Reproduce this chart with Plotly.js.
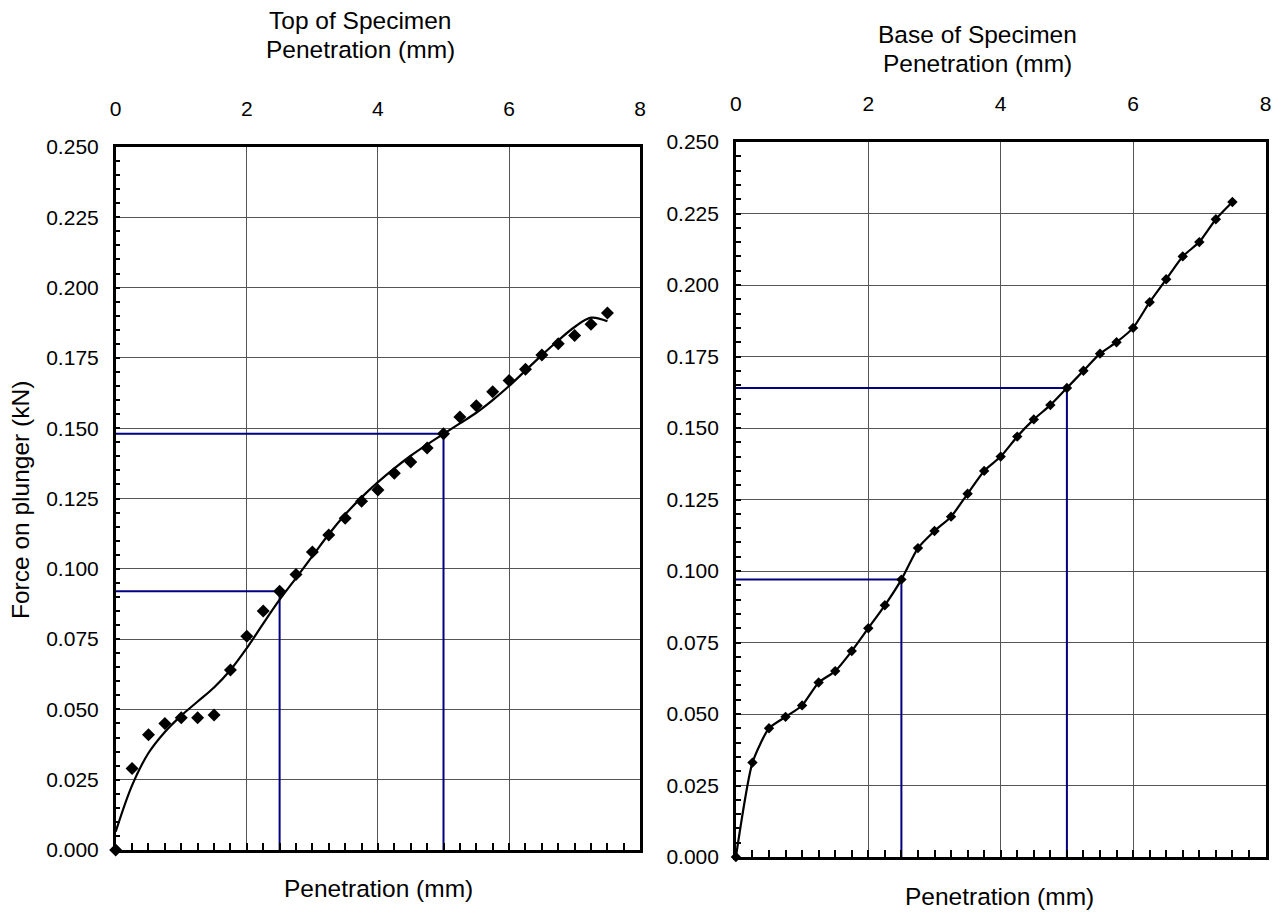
<!DOCTYPE html>
<html>
<head>
<meta charset="utf-8">
<script src="https://cdn.plot.ly/plotly-3.0.1.min.js"></script>
<style>html,body{margin:0;padding:0;background:#fff;}#chart{width:1285px;height:921px;}</style>
</head>
<body>
<div id="chart"></div>
<script>
// ---- data ----
const penetration = [0, 0.25, 0.5, 0.75, 1, 1.25, 1.5, 1.75, 2, 2.25, 2.5, 2.75, 3, 3.25, 3.5, 3.75,
  4, 4.25, 4.5, 4.75, 5, 5.25, 5.5, 5.75, 6, 6.25, 6.5, 6.75, 7, 7.25, 7.5];
const topForce = [0, 0.029, 0.041, 0.045, 0.047, 0.047, 0.048, 0.064, 0.076, 0.085, 0.092, 0.098,
  0.106, 0.112, 0.118, 0.124, 0.128, 0.134, 0.138, 0.143, 0.148, 0.154, 0.158, 0.163, 0.167,
  0.171, 0.176, 0.180, 0.183, 0.187, 0.191];
const topTrend = [0.0065, 0.023, 0.0345, 0.042, 0.0478, 0.0528, 0.0578, 0.064, 0.0718, 0.0805, 0.089,
  0.0967, 0.1045, 0.1123, 0.1193, 0.1254, 0.1308, 0.1357, 0.1402, 0.1442, 0.148, 0.1517, 0.1555,
  0.1600, 0.1650, 0.1705, 0.1760, 0.1812, 0.1860, 0.1893, 0.1880];
const baseForce = [0, 0.033, 0.045, 0.049, 0.053, 0.061, 0.065, 0.072, 0.080, 0.088, 0.097, 0.108,
  0.114, 0.119, 0.127, 0.135, 0.140, 0.147, 0.153, 0.158, 0.164, 0.170, 0.176, 0.180, 0.185,
  0.194, 0.202, 0.210, 0.215, 0.223, 0.229];
const refPenetration = [2.5, 5];
const topRefForce = [0.092, 0.148];
const baseRefForce = [0.097, 0.164];
const xTickLabels = ['0', '2', '4', '6', '8'];

// ---- helpers ----
const W = 1285, H = 921;
const px = v => v / W;
const py = v => 1 - v / H;
const FONT = 'Liberation Sans, Arial, sans-serif';
const NAVY = '#000080';

function refLines(xs, ys) {
  const x = [], y = [];
  xs.forEach((xv, i) => { x.push(0, xv, xv, null); y.push(ys[i], ys[i], 0, null); });
  return {x, y};
}
const topRef = refLines(refPenetration, topRefForce);
const baseRef = refLines(refPenetration, baseRefForce);

const traces = [
  {x: topRef.x, y: topRef.y, xaxis: 'x', yaxis: 'y', mode: 'lines', line: {color: NAVY, width: 2}, showlegend: false, hoverinfo: 'skip'},
  {x: penetration, y: topTrend, xaxis: 'x', yaxis: 'y', mode: 'lines', line: {color: '#000', width: 2.2, shape: 'spline', smoothing: 1}, showlegend: false},
  {x: penetration, y: topForce, xaxis: 'x', yaxis: 'y', mode: 'markers', marker: {symbol: 'diamond', size: 10, color: '#000'}, cliponaxis: false, showlegend: false},
  {x: [0], y: [0], xaxis: 'x3', yaxis: 'y', mode: 'markers', marker: {opacity: 0}, showlegend: false, hoverinfo: 'skip'},
  {x: baseRef.x, y: baseRef.y, xaxis: 'x2', yaxis: 'y2', mode: 'lines', line: {color: NAVY, width: 2}, showlegend: false, hoverinfo: 'skip'},
  {x: penetration, y: baseForce, xaxis: 'x2', yaxis: 'y2', mode: 'lines+markers', line: {color: '#000', width: 2.2, shape: 'spline', smoothing: 0.6},
   marker: {symbol: 'diamond', size: 8, color: '#000'}, cliponaxis: false, showlegend: false},
  {x: [0], y: [0], xaxis: 'x4', yaxis: 'y2', mode: 'markers', marker: {opacity: 0}, showlegend: false, hoverinfo: 'skip'}
];

// main x axis: top side, labels + grid, frame
function mainX(domain, anchor) {
  return {
    domain, anchor, side: 'top', range: [0, 8],
    tickmode: 'array', tickvals: xTickLabels.map(Number), ticktext: xTickLabels,
    showgrid: true, gridcolor: '#555', gridwidth: 1, zeroline: false, ticks: '',
    tickfont: {family: FONT, size: 21, color: '#000'}, ticklabelstandoff: 20,
    showline: true, linecolor: '#000', linewidth: 2.5, mirror: true
  };
}
// overlay x axis: bottom side, inside ruler ticks every 0.25 mm
function tickX(overlay, anchor) {
  return {
    overlaying: overlay, anchor, side: 'bottom', range: [0, 8], tickmode: 'linear', tick0: 0, dtick: 0.25,
    showgrid: false, zeroline: false, showline: false,
    ticks: 'inside', ticklen: 7, tickwidth: 1.8, tickcolor: '#000', showticklabels: false
  };
}
function leftY(domain, anchor) {
  return {
    domain, anchor, range: [0, 0.25], tick0: 0, dtick: 0.025, tickformat: '.3f',
    showgrid: true, gridcolor: '#555', gridwidth: 1, zeroline: false,
    ticks: 'inside', ticklen: 5, tickwidth: 1.5, tickcolor: '#000',
    minor: {tick0: 0, dtick: 0.005, ticks: 'inside', ticklen: 5, tickwidth: 1.5, tickcolor: '#000', showgrid: false},
    tickfont: {family: FONT, size: 21, color: '#000'}, ticklabelstandoff: 10,
    showline: true, linecolor: '#000', linewidth: 2.5, mirror: true
  };
}

const titleFont = {family: FONT, size: 24.5, color: '#000'};
function ann(text, x, y, extra) {
  return Object.assign({text, x: px(x), y: py(y), xref: 'paper', yref: 'paper', xanchor: 'center', yanchor: 'middle',
    showarrow: false, font: titleFont}, extra || {});
}

const layout = {
  width: W, height: H,
  margin: {l: 0, r: 0, t: 0, b: 0},
  paper_bgcolor: '#fff', plot_bgcolor: '#fff',
  font: {family: FONT, color: '#000'},
  showlegend: false,
  xaxis: mainX([px(115.7), px(640.2)], 'y'),
  yaxis: leftY([1 - 850 / H, 1 - 147 / H], 'x'),
  xaxis3: tickX('x', 'y'),
  xaxis2: mainX([px(735.9), px(1265.5)], 'y2'),
  yaxis2: leftY([1 - 857 / H, 1 - 142 / H], 'x2'),
  xaxis4: tickX('x2', 'y2'),
  annotations: [
    ann('Top of Specimen', 360, 20),
    ann('Penetration (mm)', 360, 49),
    ann('Base of Specimen', 977, 34),
    ann('Penetration (mm)', 977, 63),
    ann('Penetration (mm)', 378, 888),
    ann('Penetration (mm)', 999, 896),
    ann('Force on plunger (kN)', 20, 500, {textangle: -90})
  ]
};

Plotly.newPlot('chart', traces, layout, {displayModeBar: false});
</script>
</body>
</html>
